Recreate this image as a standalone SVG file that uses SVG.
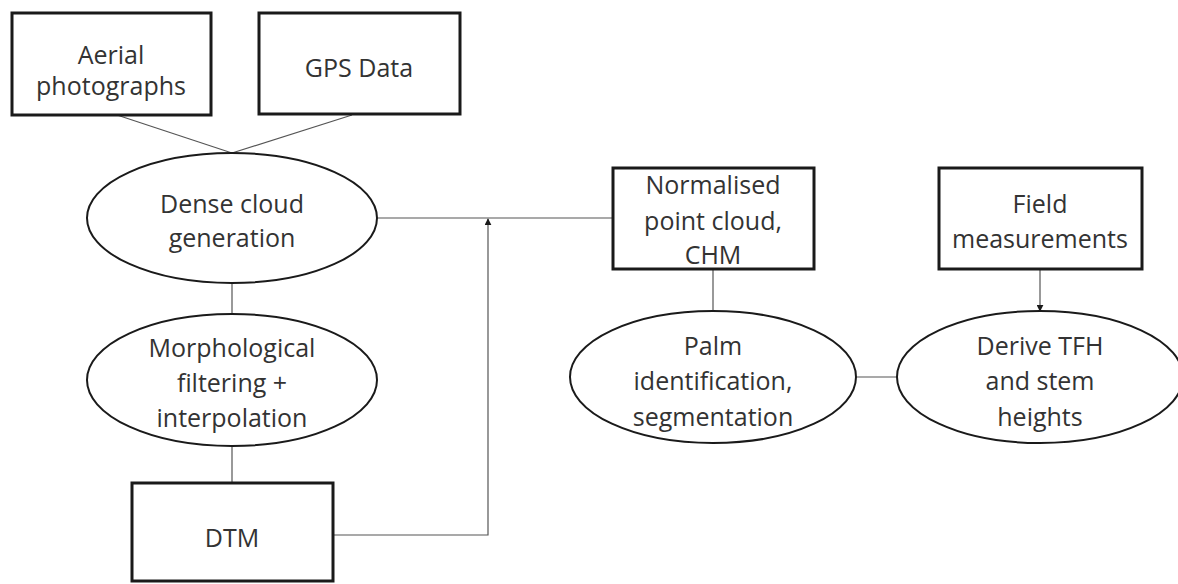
<svg xmlns="http://www.w3.org/2000/svg" width="1178" height="584" viewBox="0 0 1178 584">
<style>
.box{fill:#fff;stroke:#1a1a1a;stroke-width:3}
.ell{fill:#fff;stroke:#1a1a1a;stroke-width:2}
.lbl{font-family:"Open Sans","Liberation Sans",sans-serif;font-size:25px;fill:#333;text-anchor:middle;dominant-baseline:central}
.con{fill:none;stroke:#555;stroke-width:1.2}
</style>
<defs>
<marker id="arr" viewBox="0 0 10 10" refX="9" refY="5" markerWidth="7" markerHeight="7" orient="auto" markerUnits="userSpaceOnUse">
<path d="M0,0 L10,5 L0,10 z" fill="#1a1a1a"/>
</marker>
</defs>
<g id="connectors">
<line class="con" x1="117" y1="115" x2="232" y2="153"/>
<line class="con" x1="352" y1="115" x2="232" y2="153"/>
<line class="con" x1="377" y1="218" x2="613" y2="218"/>
<line class="con" x1="232" y1="284" x2="232" y2="314"/>
<line class="con" x1="232" y1="446" x2="232" y2="483"/>
<polyline class="con" points="333,535 488,535 488,219" marker-end="url(#arr)"/>
<line class="con" x1="713" y1="269" x2="713" y2="311"/>
<line class="con" x1="856" y1="377" x2="897" y2="377"/>
<line class="con" x1="1040" y1="269" x2="1040" y2="311" marker-end="url(#arr)"/>
</g>
<g id="aerial">
<rect class="box" x="12" y="13" width="199" height="102"/>
<text class="lbl" x="111" y="54">Aerial</text>
<text class="lbl" x="111" y="85">photographs</text>
</g>
<g id="gps">
<rect class="box" x="259" y="13" width="201" height="101"/>
<text class="lbl" x="359" y="67">GPS Data</text>
</g>
<g id="dense">
<ellipse class="ell" cx="232" cy="218" rx="145" ry="65"/>
<text class="lbl" x="232" y="203">Dense cloud</text>
<text class="lbl" x="232" y="237">generation</text>
</g>
<g id="morph">
<ellipse class="ell" cx="232" cy="380" rx="145" ry="66"/>
<text class="lbl" x="232" y="347">Morphological</text>
<text class="lbl" x="232" y="382">filtering +</text>
<text class="lbl" x="232" y="417">interpolation</text>
</g>
<g id="dtm">
<rect class="box" x="132" y="483" width="201" height="98"/>
<text class="lbl" x="232" y="537">DTM</text>
</g>
<g id="normalised">
<rect class="box" x="613" y="168" width="201" height="101"/>
<text class="lbl" x="713" y="184">Normalised</text>
<text class="lbl" x="713" y="220">point cloud,</text>
<text class="lbl" x="713" y="254">CHM</text>
</g>
<g id="palm">
<ellipse class="ell" cx="713" cy="377" rx="143" ry="66"/>
<text class="lbl" x="713" y="345">Palm</text>
<text class="lbl" x="713" y="380">identification,</text>
<text class="lbl" x="713" y="416">segmentation</text>
</g>
<g id="field">
<rect class="box" x="939" y="168" width="203" height="101"/>
<text class="lbl" x="1040" y="203">Field</text>
<text class="lbl" x="1040" y="238">measurements</text>
</g>
<g id="derive">
<ellipse class="ell" cx="1040" cy="377" rx="143" ry="66"/>
<text class="lbl" x="1040" y="345">Derive TFH</text>
<text class="lbl" x="1040" y="380">and stem</text>
<text class="lbl" x="1040" y="416">heights</text>
</g>
</svg>
